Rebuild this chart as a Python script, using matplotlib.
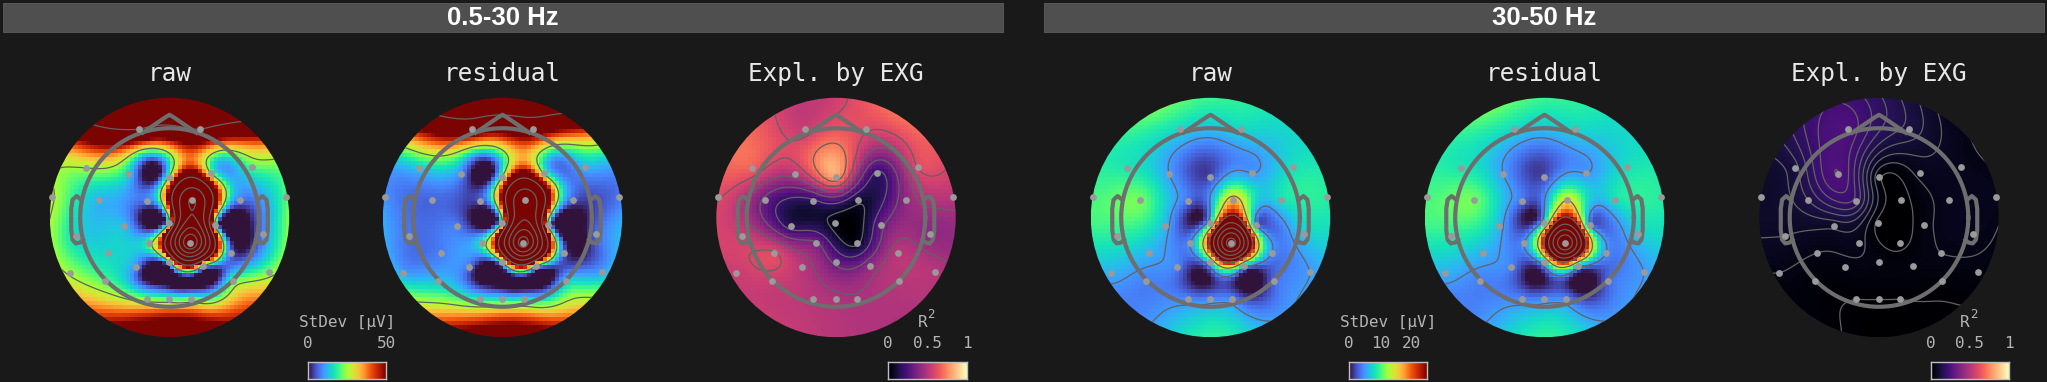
import numpy as np
import matplotlib
matplotlib.use("Agg")
import matplotlib.pyplot as plt
from matplotlib.patches import Circle, Rectangle

W, H = 2047, 382
BG = "#191919"

# electrode positions, head radius = 1
elec_x = [-0.347, 0.340,
          -0.937, -0.463, -0.004, 0.463, 0.922,
          -1.321, -0.791, -0.257, 0.250, 0.784, 1.310,
          -1.052, -0.507, -0.007, 0.507, 1.049,
          -0.690, -0.224, 0.231, 0.690,
          -1.119, -0.377, -0.004, 0.377, 1.112,
          -0.720, 0.709,
          -0.254, -0.004, 0.239]
elec_y = [0.989, 0.989,
          0.556, 0.485, 0.455, 0.493, 0.567,
          0.231, 0.194, 0.190, 0.194, 0.198, 0.224,
          -0.205, -0.090, -0.063, -0.086, -0.187,
          -0.396, -0.291, -0.291, -0.392,
          -0.619, -0.549, -0.493, -0.541, -0.612,
          -0.716, -0.716,
          -0.918, -0.918, -0.918]

# values at the electrodes
raw_low = [75, 75,
           25, 14, 25, 25, 20,
           26, 12, 8, 180, 8, 20,
           15, 12, 25, 25, 8,
           15, 22, 320, 6,
           24, 9, 25, 25, 22,
           20, 20,
           22, 20, 20]
res_low = [60, 60,
           14, 8, 25, 24, 12,
           9, 6, 5, 170, 6, 7,
           7, 7, 25, 25, 6,
           8, 20, 300, 6,
           10, 7, 25, 25, 10,
           13, 13,
           16, 15, 15]
r2_low = [0.55, 0.60,
          0.66, 0.50, 0.80, 0.18, 0.60,
          0.60, 0.30, 0.18, 0.10, 0.40, 0.50,
          0.55, 0.15, 0.03, 0.30, 0.40,
          0.60, 0.35, 0.05, 0.50,
          0.55, 0.50, 0.30, 0.40, 0.50,
          0.55, 0.50,
          0.50, 0.48, 0.47]
raw_high = [7.5, 7.5,
            8.5, 5, 2, 5, 8,
            10, 11, 3.5, 17, 8, 9,
            9, 6, 8, 5, 7,
            6, 5, 70, 5,
            6, 4, 10, 8, 5,
            4, 3,
            4, 4, 4]
res_high = [7.5, 7.5,
            8.5, 5, 2, 5, 8,
            10, 11, 3.5, 15, 8, 9,
            9, 6, 8, 5, 7,
            6, 5, 65, 5,
            6, 4, 9, 8, 5,
            4, 3,
            4, 4, 4]
r2_high = [0.24, 0.12,
           0.12, 0.25, 0.02, 0.05, 0.05,
           0.08, 0.13, 0.18, 0.00, 0.05, 0.05,
           0.07, 0.08, 0.00, 0.03, 0.05,
           0.04, 0.05, 0.00, 0.04,
           0.04, 0.03, 0.03, 0.03, 0.03,
           0.02, 0.02,
           0.01, 0.01, 0.01]

# values on a ring outside the scalp, clockwise from the top
ring_angles = [90, 60, 30, 0, -30, -60, -90, -120, -150, 180, 150, 120]
raw_low_ring = [125, 110, 30, 30, 32, 55, 80, 55, 32, 30, 32, 110]
res_low_ring = [105, 90, 18, 14, 20, 50, 75, 50, 20, 14, 18, 90]
r2_low_ring = [0.55, 0.75, 0.60, 0.45, 0.47, 0.47, 0.50, 0.55, 0.55, 0.60, 0.70, 0.60]
raw_high_ring = [10.5, 8.5, 8, 8, 6, 6, 10, 5, 5, 10, 9, 12]
res_high_ring = [10.5, 8.5, 8, 8, 6, 6, 10, 5, 5, 10, 9, 12]
r2_high_ring = [0.15, 0.05, 0.03, 0.03, 0.02, 0.00, 0.00, 0.02, 0.03, 0.08, 0.10, 0.20]

# extra points between the electrodes
low_extra_x = [-0.17, -0.26, 0.76, -0.10, 0.40, 0.23, -0.30, 0.60, 0.16, -0.28]
low_extra_y = [0.51, -0.02, -0.09, -0.68, -0.72, 0.72, 0.70, 0.70, -0.72, -0.65]
raw_low_extra = [-5, -5, -6, -6, -6, 40, 14, 18, -6, -3]
res_low_extra = [-5, -5, -6, -6, -6, 35, 10, 12, -6, -3]
high_extra_x = [-0.16, -0.12, -0.10, 0.35, 0.64]
high_extra_y = [0.00, 0.57, -0.70, -0.70, -0.05]
raw_high_extra = [-0.5, 1.5, -1, -1, 2.5]
res_high_extra = [-0.5, 1.5, -1, -1, 2.5]

titles = ["raw", "residual", "Expl. by EXG"]
band_names = ["0.5-30 Hz", "30-50 Hz"]
centers_x = [169.5, 502.5, 836, 1210.5, 1544.5, 1879]
center_y = 217.5
scalp_r_px = 119.7
head_r_px = 89.3


def biharmonic(kx, ky, kv, gx, gy):
    kx, ky, kv = np.asarray(kx), np.asarray(ky), np.asarray(kv, dtype=float)
    d = np.hypot(kx[:, None] - kx[None, :], ky[:, None] - ky[None, :])
    K = np.where(d > 0, d**2 * np.log(d + 1e-12), 0.0)
    P = np.c_[np.ones_like(kx), kx, ky]
    n = len(kx)
    A = np.block([[K + 1e-5 * np.eye(n), P], [P.T, np.zeros((3, 3))]])
    w = np.linalg.solve(A, np.r_[kv, np.zeros(3)])
    dg = np.hypot(gx[..., None] - kx, gy[..., None] - ky)
    Kg = np.where(dg > 0, dg**2 * np.log(dg + 1e-12), 0.0)
    return Kg @ w[:n] + w[n] + w[n + 1] * gx + w[n + 2] * gy


def px_axes(x0, y0, x1, y1):
    return fig.add_axes([x0 / W, 1 - y1 / H, (x1 - x0) / W, (y1 - y0) / H])


def draw_head(ax):
    t = np.linspace(0, 2 * np.pi, 200)
    style = dict(color="#6e6e6e", lw=3, solid_joinstyle="round", zorder=4)
    ax.plot(np.cos(t), np.sin(t), **style)
    ax.plot([-0.30, -0.05, 0, 0.05, 0.30], [0.95, 1.12, 1.15, 1.12, 0.95], **style)
    ear_x = np.array([0.99, 1.04, 1.085, 1.10, 1.10, 1.085, 1.05, 1.00, 0.97])
    ear_y = np.array([0.20, 0.24, 0.20, 0.10, -0.14, -0.25, -0.29, -0.28, -0.25])
    ax.plot(ear_x, ear_y, **style)
    ax.plot(-ear_x, ear_y, **style)


def topomap(cx, title, vals, ring, vmax, cmap, levels, extra=None):
    s = scalp_r_px / head_r_px
    ax = px_axes(cx - scalp_r_px - 8, center_y - scalp_r_px - 8,
                 cx + scalp_r_px + 8, center_y + scalp_r_px + 8)
    m = s * (scalp_r_px + 8) / scalp_r_px
    ax.set_xlim(-m, m)
    ax.set_ylim(-m, m)
    ax.axis("off")

    ang = np.radians(ring_angles)
    kx = list(elec_x) + list(1.5 * np.cos(ang))
    ky = list(elec_y) + list(1.5 * np.sin(ang))
    kv = list(vals) + list(ring)
    if extra is not None:
        kx += extra[0]
        ky += extra[1]
        kv += extra[2]

    # blocky image, smooth contours
    g = np.linspace(-s, s, 60)
    gx, gy = np.meshgrid(g, g)
    z = biharmonic(kx, ky, kv, gx, gy)
    im = ax.imshow(z, extent=[-s, s, -s, s], origin="lower", cmap=cmap,
                   vmin=0, vmax=vmax, interpolation="nearest")
    im.set_clip_path(Circle((0, 0), s, transform=ax.transData))

    g2 = np.linspace(-s, s, 200)
    gx2, gy2 = np.meshgrid(g2, g2)
    z2 = biharmonic(kx, ky, kv, gx2, gy2)
    cs = ax.contour(gx2, gy2, z2, levels=levels, colors="#626262", linewidths=0.9,
                    linestyles="solid", zorder=3)
    cs.set_clip_path(Circle((0, 0), s, transform=ax.transData))

    draw_head(ax)
    ax.scatter(elec_x, elec_y, s=24, color="#9a9a9a", linewidths=0, zorder=5, clip_on=False)
    fig.text(cx / W, 1 - 81 / H, title, color="#e8e8e8", family="DejaVu Sans Mono",
             fontsize=17.6, ha="center", va="baseline")


def colorbar(x0, x1, label, cmap, vmax, ticks, ticklabels):
    ax = px_axes(x0, 362, x1, 379)
    grad = np.linspace(0, 1, 64)[None, :]
    ax.imshow(grad, extent=[0, vmax, 0, 1], aspect="auto", cmap=cmap, interpolation="bilinear")
    ax.set_yticks([])
    ax.set_xticks(ticks)
    ax.set_xticklabels(ticklabels, family="DejaVu Sans Mono", fontsize=11.5, color="#b4b4b4")
    ax.xaxis.tick_top()
    ax.tick_params(axis="x", length=0, pad=8)
    for sp in ax.spines.values():
        sp.set_color("#c0c0c0")
        sp.set_linewidth(1)
    xm = (x0 + x1) / 2
    if label == "R2":
        fig.text((xm - 5) / W, 1 - 327 / H, "R", color="#b4b4b4", family="DejaVu Sans Mono",
                 fontsize=11.5, ha="center", va="baseline")
        fig.text((xm + 4) / W, 1 - 318 / H, "2", color="#b4b4b4", family="DejaVu Sans Mono",
                 fontsize=9, ha="center", va="baseline")
    else:
        fig.text(xm / W, 1 - 327 / H, label, color="#b4b4b4", family="DejaVu Sans Mono",
                 fontsize=11.5, ha="center", va="baseline")


fig = plt.figure(figsize=(W / 100, H / 100), dpi=100, facecolor=BG)

fig.add_artist(Rectangle((3 / W, 1 - 32 / H), 1000 / W, 29 / H, transform=fig.transFigure,
                         facecolor="#4f4f4f", edgecolor="#5c5c5c", lw=0.6))
fig.add_artist(Rectangle((1044 / W, 1 - 32 / H), 1000 / W, 29 / H, transform=fig.transFigure,
                         facecolor="#4f4f4f", edgecolor="#5c5c5c", lw=0.6))
fig.text(503 / W, 1 - 25 / H, band_names[0], color="white", family="Liberation Sans",
         weight="bold", fontsize=18.5, ha="center", va="baseline")
fig.text(1544 / W, 1 - 25 / H, band_names[1], color="white", family="Liberation Sans",
         weight="bold", fontsize=18.5, ha="center", va="baseline")

low_lv = [25, 75, 125, 175, 225, 275]
high_lv = [5, 15, 25, 35, 45, 55, 65]
r2_lv_low = [0.07, 0.20, 0.33, 0.46, 0.59, 0.72, 0.85]
r2_lv_high = [0.01, 0.04, 0.07, 0.10, 0.13, 0.16, 0.19, 0.22, 0.25]

topomap(centers_x[0], titles[0], raw_low, raw_low_ring, 50, "turbo", low_lv,
        (low_extra_x, low_extra_y, raw_low_extra))
topomap(centers_x[1], titles[1], res_low, res_low_ring, 50, "turbo", low_lv,
        (low_extra_x, low_extra_y, res_low_extra))
topomap(centers_x[2], titles[2], r2_low, r2_low_ring, 1, "magma", r2_lv_low)
topomap(centers_x[3], titles[0], raw_high, raw_high_ring, 25, "turbo", high_lv,
        (high_extra_x, high_extra_y, raw_high_extra))
topomap(centers_x[4], titles[1], res_high, res_high_ring, 25, "turbo", high_lv,
        (high_extra_x, high_extra_y, res_high_extra))
topomap(centers_x[5], titles[2], r2_high, r2_high_ring, 1, "magma", r2_lv_high)

colorbar(308, 386, "StDev [µV]", "turbo", 50, [0, 50], ["0", "50"])
colorbar(888, 966.5, "R2", "magma", 1, [0, 0.5, 1], ["0", "0.5", "1"])
colorbar(1349, 1427, "StDev [µV]", "turbo", 25, [0, 10, 20], ["0", "10", "20"])
colorbar(1930.5, 2008.5, "R2", "magma", 1, [0, 0.5, 1], ["0", "0.5", "1"])

fig.savefig("out.png", dpi=100, facecolor=BG)
